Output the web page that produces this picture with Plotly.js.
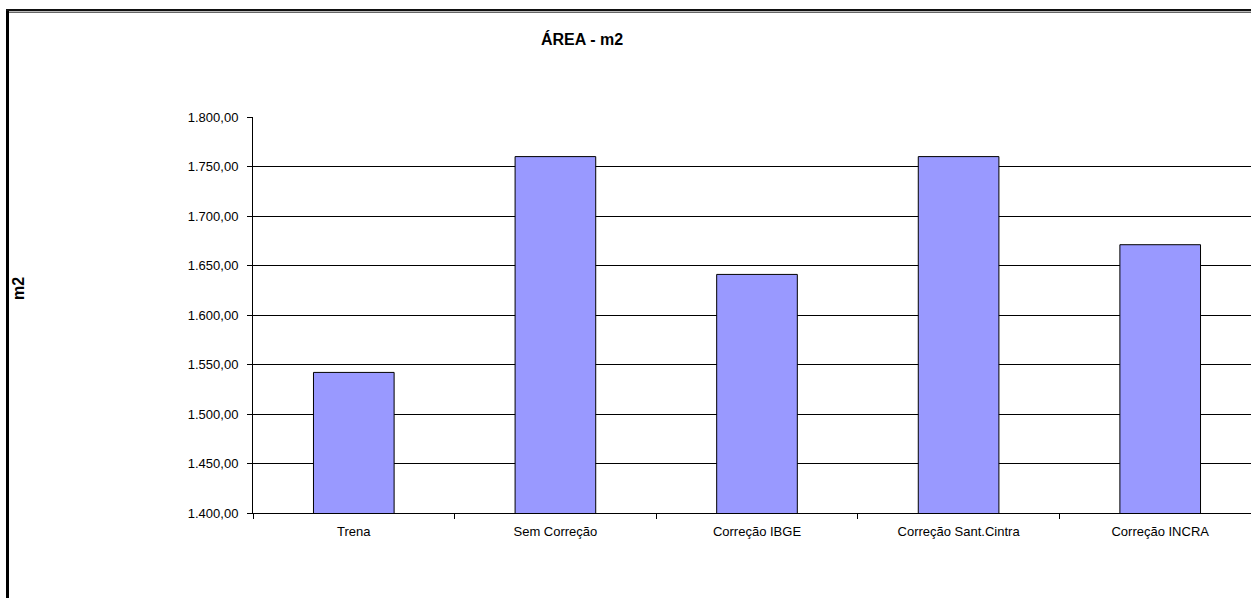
<!DOCTYPE html>
<html>
<head>
<meta charset="utf-8">
<script src="https://cdn.plot.ly/plotly-3.0.1.min.js"></script>
<style>
  html, body { margin: 0; padding: 0; width: 1251px; height: 598px; overflow: hidden; background: #fff; }
  #chart { position: absolute; left: 0; top: 0; width: 1262px; height: 598px; }
  .frame-left { position: absolute; left: 6px; top: 9px; width: 3px; height: 700px; background: #000; pointer-events: none; }
  .frame-top1 { position: absolute; left: 6px; top: 9px; width: 1400px; height: 2px; background: #111; pointer-events: none; }
  .frame-top2 { position: absolute; left: 9px; top: 11px; width: 1400px; height: 1px; background: #bbb; pointer-events: none; }
  .frame-top3 { position: absolute; left: 9px; top: 12px; width: 1400px; height: 1px; background: #666; pointer-events: none; }
</style>
</head>
<body>
<div id="chart"></div>
<div class="frame-left"></div>
<div class="frame-top1"></div>
<div class="frame-top2"></div>
<div class="frame-top3"></div>
<script>
const categories = ["Trena", "Sem Correção", "Correção IBGE", "Correção Sant.Cintra", "Correção INCRA"];
const areaValues = [1542, 1760, 1641, 1760, 1671];
const yTickVals = [1400, 1450, 1500, 1550, 1600, 1650, 1700, 1750, 1800];
const yTickText = ["1.400,00", "1.450,00", "1.500,00", "1.550,00", "1.600,00", "1.650,00", "1.700,00", "1.750,00", "1.800,00"];
const gridVals = [1450, 1500, 1550, 1600, 1650, 1700, 1750];

const font = "Liberation Sans, Arial, sans-serif";

const data = [{
  type: "bar",
  x: categories,
  y: areaValues,
  marker: { color: "#9999FF", line: { color: "#000", width: 1 } },
  hoverinfo: "x+y"
}];

const layout = {
  width: 1262,
  height: 598,
  margin: { l: 253, r: 1, t: 117, b: 85 },
  paper_bgcolor: "#fff",
  plot_bgcolor: "rgba(0,0,0,0)",
  showlegend: false,
  bargap: 0.6,
  font: { family: font, size: 13, color: "#000" },
  title: {
    text: "ÁREA - m2",
    font: { family: font, size: 16, color: "#000", weight: "bold" },
    xref: "container", x: 582 / 1262, xanchor: "center",
    yref: "container", y: 1 - 39 / 598, yanchor: "middle"
  },
  xaxis: {
    type: "category",
    range: [-0.5, 4.5],
    showline: true, linecolor: "#000", linewidth: 1,
    ticks: "outside", tickson: "boundaries", ticklen: 5, tickcolor: "#000",
    ticklabelstandoff: 6,
    showgrid: false,
    tickfont: { family: font, size: 13, color: "#000" },
    fixedrange: true
  },
  yaxis: {
    range: [1400, 1800],
    tickvals: yTickVals,
    ticktext: yTickText,
    showline: true, linecolor: "#000", linewidth: 1,
    ticks: "outside", ticklen: 5, tickcolor: "#000",
    ticklabelstandoff: 6,
    showgrid: false, zeroline: false,
    tickfont: { family: font, size: 13, color: "#000" },
    fixedrange: true
  },
  yaxis2: {
    overlaying: "y",
    matches: "y",
    range: [1400, 1800],
    tickvals: gridVals,
    showticklabels: false,
    showgrid: true, gridcolor: "#000", gridwidth: 1,
    zeroline: false, showline: false, ticks: "",
    fixedrange: true
  },
  annotations: [{
    text: "m2",
    textangle: -90,
    xref: "paper", yref: "paper",
    x: (18 - 253) / 1008, y: (598 - 85 - 289) / 396,
    xanchor: "center", yanchor: "middle",
    showarrow: false,
    font: { family: font, size: 16, color: "#000", weight: "bold" }
  }]
};

// invisible trace to attach the grid axis
data.push({ type: "scatter", x: [categories[0]], y: [areaValues[0]], yaxis: "y2", mode: "markers", marker: { opacity: 0 }, hoverinfo: "skip" });

Plotly.newPlot("chart", data, layout, { displayModeBar: false, staticPlot: true });
</script>
</body>
</html>
